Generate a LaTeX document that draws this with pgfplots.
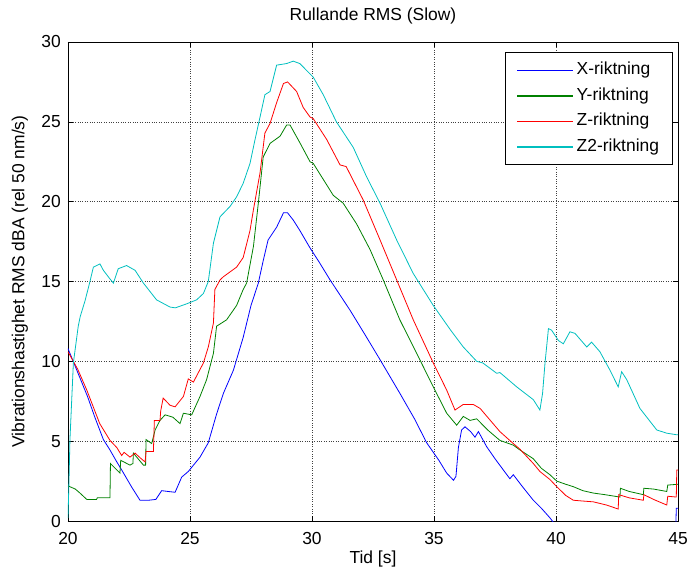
\documentclass[border=0pt]{standalone}
\usepackage{fontspec}
\setmainfont{Liberation Sans}
\usepackage{pgfplots}
\pgfplotsset{compat=1.18}
\definecolor{mblue}{rgb}{0,0,1}
\definecolor{mgreen}{rgb}{0,0.5,0}
\definecolor{mred}{rgb}{1,0,0}
\definecolor{mcyan}{rgb}{0,0.75,0.75}
\newcommand{\lf}{\fontsize{17.5}{20}\selectfont}
\begin{document}
\begin{tikzpicture}
\useasboundingbox (-68bp,-50bp) rectangle (620bp,521bp);
\begin{axis}[
 at={(0,0)}, anchor=south west,
 scale only axis, width=610bp, height=479bp,
 xmin=20, xmax=45, ymin=0, ymax=30,
 xtick={20,25,...,45}, ytick={0,5,...,30},
 grid=major,
 major grid style={dotted, black!75, line width=0.6bp},
 axis line style={line width=0.9bp},
 tick style={black, line width=0.6bp},
 major tick length=5bp,
 tick align=inside,
 /pgf/number format/assume math mode=true,
 ticklabel style={font=\lf},
 xticklabel style={anchor=base, inner sep=0pt, yshift=-23bp},
 yticklabel style={anchor=east, inner sep=0pt, xshift=-7bp},
 title={Rullande RMS (Slow)},
 title style={font=\lf, at={(0.5,1)}, anchor=base, yshift=16bp, inner sep=0pt},
 xlabel={Tid [s]},
 xlabel style={font=\lf, at={(0.5,0)}, anchor=base, yshift=-42bp, inner sep=0pt},
 ylabel={Vibrationshastighet RMS dBA (rel 50 nm/s)},
 ylabel style={font=\lf, at={(-0.0787,0.5)}, anchor=center, inner sep=0pt},
 legend style={at={(0.9918,0.9791)}, anchor=north east, draw=black, line width=0.9bp, fill=white, font=\lf, inner xsep=10.5bp, inner ysep=5bp, row sep=0pt, nodes={inner xsep=3bp, inner ysep=4.3bp, text height=13bp, text depth=4bp}},
 legend cell align=left,
 legend image code/.code={\draw[#1, line width=1.4bp] (0bp,0bp) -- (56bp,0bp);},
]
\addplot[mblue, line width=0.8bp] coordinates {
(20.0,10.8) (20.4,9.3) (20.8,7.8) (21.1,6.5) (21.45,5.1) (21.72,4.45) (22.0,3.7) (22.2,3.2) (22.6,2.15) (22.95,1.3) (23.3,1.3) (23.6,1.35) (23.84,1.9) (24.1,1.85) (24.39,1.8) (24.66,2.75) (24.93,3.1) (25.41,4.0) (25.75,4.9) (26.09,6.7) (26.37,8.0) (26.78,9.45) (27.18,11.5) (27.5,13.5) (27.8,14.9) (28.0,16.3) (28.2,17.6) (28.55,18.4) (28.83,19.3) (29.0,19.3) (29.23,18.85) (29.5,18.2) (29.92,17.1) (30.3,16.2) (30.74,15.1) (31.56,13.2) (32.2,11.6) (32.79,10.1) (33.6,8.0) (34.2,6.4) (34.7,4.9) (35.2,3.8) (35.52,3.0) (35.8,2.55) (35.9,2.8) (36.0,4.6) (36.13,5.7) (36.27,5.9) (36.5,5.6) (36.68,5.25) (36.82,5.6) (37.16,4.65) (37.5,3.9) (37.84,3.2) (38.11,2.65) (38.25,2.9) (38.6,2.2) (39.07,1.3) (39.4,0.8) (39.75,0.2) (40.0,-0.3) (44.9,-1) (44.93,0.8) (45,0.8)
};
\addlegendentry{X-riktning}
\addplot[mgreen, line width=0.8bp] coordinates {
(20.0,2.2) (20.3,2.0) (20.49,1.75) (20.77,1.35) (21.17,1.35) (21.2,1.45) (21.72,1.45) (21.74,3.6) (22.13,3.0) (22.16,3.8) (22.54,3.5) (22.66,3.6) (22.68,4.25) (23.09,3.5) (23.18,3.5) (23.2,5.1) (23.43,4.85) (23.57,5.7) (23.77,6.3) (23.98,6.65) (24.3,6.5) (24.59,6.1) (24.73,6.75) (25.07,6.65) (25.41,7.8) (25.68,8.85) (25.96,10.5) (26.09,12.2) (26.5,12.6) (26.91,13.5) (27.18,14.5) (27.32,14.9) (27.6,17.2) (27.8,19.9) (28.0,22.8) (28.28,23.65) (28.69,24.1) (28.96,24.8) (29.1,24.8) (29.5,23.7) (29.92,22.5) (30.05,22.4) (30.87,20.4) (31.28,19.9) (31.83,18.6) (32.38,17.0) (32.92,15.1) (33.6,12.6) (34.29,10.5) (34.97,8.4) (35.52,6.75) (35.93,6.0) (36.2,6.55) (36.48,6.3) (36.75,6.4) (37.2,5.7) (37.7,5.05) (38.25,4.75) (38.52,4.45) (39.07,3.9) (39.4,3.3) (39.75,2.9) (40.03,2.5) (40.4,2.3) (40.71,2.15) (41.1,1.9) (41.53,1.75) (42.0,1.65) (42.62,1.5) (42.64,2.05) (43.0,1.85) (43.58,1.65) (43.6,2.05) (44.0,2.0) (44.54,1.85) (44.58,2.25) (45.0,2.3)
};
\addlegendentry{Y-riktning}
\addplot[mred, line width=0.8bp] coordinates {
(20.0,10.6) (20.4,9.5) (20.77,8.2) (21.3,6.1) (21.72,5.05) (22.0,4.6) (22.2,4.1) (22.3,4.3) (22.54,4.0) (22.75,4.25) (23.0,3.9) (23.16,3.7) (23.2,4.35) (23.5,4.35) (23.54,6.3) (23.77,6.3) (23.8,6.9) (23.9,7.7) (24.18,7.25) (24.39,7.15) (24.73,7.8) (24.93,8.9) (25.14,8.7) (25.55,9.9) (25.75,10.9) (25.96,12.4) (26.02,14.5) (26.23,15.1) (26.37,15.3) (26.91,15.9) (27.18,16.5) (27.46,18.2) (27.6,19.5) (27.87,21.8) (28.07,24.3) (28.28,24.9) (28.55,26.2) (28.83,27.4) (29.0,27.5) (29.37,26.9) (29.64,25.9) (29.92,25.3) (30.05,25.2) (30.6,23.9) (31.15,22.3) (31.4,22.2) (32.1,20.1) (32.79,17.6) (33.47,15.1) (34.15,12.6) (34.97,9.9) (35.52,8.2) (35.86,6.95) (36.2,7.3) (36.61,7.3) (36.89,7.05) (37.7,5.6) (38.25,4.85) (38.52,4.5) (39.07,3.6) (39.34,3.1) (39.75,2.6) (40.03,2.15) (40.4,1.6) (40.71,1.3) (41.1,1.25) (41.53,1.2) (42.07,1.0) (42.55,0.75) (42.57,1.65) (43.0,1.45) (43.58,1.3) (43.6,1.65) (44.0,1.35) (44.54,1.0) (44.58,1.55) (44.93,1.5) (44.95,3.2) (45.0,3.2)
};
\addlegendentry{Z-riktning}
\addplot[mcyan, line width=0.8bp] coordinates {
(20.0,0.2) (20.04,2.5) (20.08,5.1) (20.15,7.5) (20.22,9.9) (20.42,12.2) (20.5,12.8) (20.7,13.8) (20.9,15.0) (21.04,15.9) (21.31,16.1) (21.45,15.7) (21.7,15.2) (21.86,14.9) (22.06,15.8) (22.4,16.0) (22.75,15.7) (23.09,14.9) (23.63,13.85) (24.18,13.4) (24.4,13.35) (24.86,13.6) (25.27,13.85) (25.55,14.25) (25.75,15.0) (25.96,17.4) (26.23,19.05) (26.64,19.7) (26.91,20.3) (27.18,21.15) (27.46,22.4) (27.66,23.85) (27.87,25.3) (28.07,26.7) (28.28,26.9) (28.55,28.55) (28.96,28.65) (29.23,28.8) (29.5,28.65) (29.92,28.0) (30.05,27.8) (30.46,26.7) (31.0,25.0) (31.69,23.4) (32.24,21.55) (32.79,19.9) (33.47,17.6) (34.15,15.5) (34.97,13.5) (35.66,12.0) (36.2,10.9) (36.75,10.0) (37.0,9.9) (37.57,9.25) (37.7,9.3) (38.39,8.4) (39.07,7.6) (39.34,6.95) (39.45,8.0) (39.55,9.9) (39.69,12.05) (39.82,11.95) (40.1,11.3) (40.3,11.1) (40.57,11.85) (40.78,11.75) (41.26,10.9) (41.46,11.2) (41.8,10.6) (42.21,9.45) (42.55,8.4) (42.69,9.35) (42.9,8.85) (43.44,7.05) (44.13,5.7) (44.54,5.5) (44.95,5.4) (45.0,5.4)
};
\addlegendentry{Z2-riktning}
\end{axis}
\end{tikzpicture}
\end{document}
